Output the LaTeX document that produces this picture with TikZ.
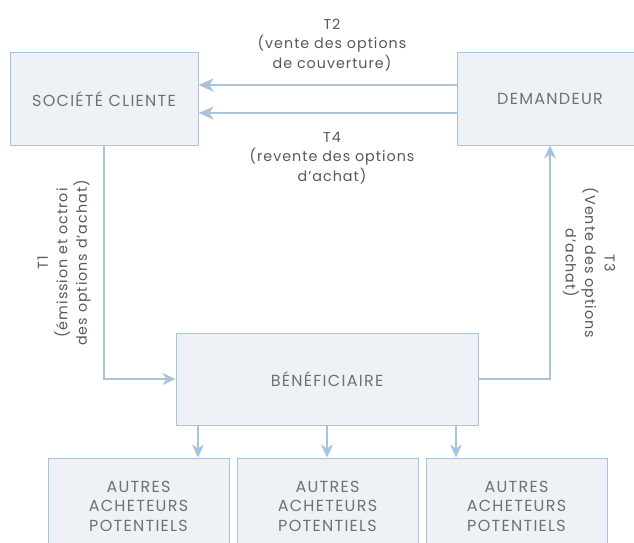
\documentclass[tikz,border=0pt]{standalone}
\usepackage{fontspec}
\setmainfont{Poppins}[LetterSpace=7]
\newfontfamily\capsfont{Poppins}[LetterSpace=8]
\usepackage{tikz}
\usetikzlibrary{arrows,arrows.meta,positioning,calc}

\definecolor{boxfill}{HTML}{EEF2F7}
\definecolor{boxline}{HTML}{A9C3DA}
\definecolor{txt}{HTML}{55585C}

\begin{document}
\begin{tikzpicture}[x=1pt,y=-1pt,font=\fontsize{14.3}{19.5}\selectfont,text=txt]
    % Define styles
    \tikzstyle{party} = [rectangle, draw=boxline, fill=boxfill, line width=1pt, text centered, align=center, inner sep=0pt, font=\capsfont\fontsize{16}{19.5}\selectfont, text=txt!85]
    \tikzstyle{buyer} = [party, minimum width=181pt, minimum height=96pt]
    \tikzstyle{arrow} = [draw=boxline, line width=1.3pt, -{Stealth[length=13pt,width=12pt,inset=4pt]}]
    \tikzstyle{bigarrow} = [draw=boxline, line width=2.6pt, -{Stealth[length=15pt,width=13pt,inset=4pt]}]
    \tikzstyle{label} = [align=center, inner sep=0pt]

    \useasboundingbox (0,0) rectangle (634,543);
    \clip (0,0) rectangle (634,543);

    % Nodes
    \node (soc) [party, minimum width=188pt, minimum height=92pt] at (104,99) {SOCIÉTÉ CLIENTE};
    \node (dem) [party, minimum width=186pt, minimum height=92pt] at (550,99) {DEMANDEUR};
    \node (ben) [party, minimum width=302pt, minimum height=92pt] at (327,379) {BÉNÉFICIAIRE};

    \node (buyA) [buyer] at (138.5,506) {AUTRES\\ACHETEURS\\POTENTIELS};
    \node (buyB) [buyer] at (327.5,506) {AUTRES\\ACHETEURS\\POTENTIELS};
    \node (buyC) [buyer] at (516.5,506) {AUTRES\\ACHETEURS\\POTENTIELS};

    % Labels
    \node (lblTtwo) [label] at (332,45) {T2\\(vente des options\\de couverture)};
    \node (lblTfour) [label] at (332,158) {T4\\(revente des options\\d’achat)};
    \node (lblTone) [label, rotate=90] at (64,263) {T1\\(émission et octroi\\des options d’achat)};
    \node (lblTthree) [label, rotate=-90] at (589,263) {T3\\(Vente des options\\d’achat)};

    % Arrows
    \draw [bigarrow] ([yshift=14pt]dem.west) -- ([yshift=14pt]soc.east);
    \draw [bigarrow] ([yshift=-14pt]dem.west) -- ([yshift=-14pt]soc.east);
    \draw [arrow] (soc.south) |- (ben.west);
    \draw [arrow] (ben.east) -| (dem.south);
    \draw [arrow] ([xshift=-129pt]ben.south) -- ([xshift=-129pt]ben.south |- buyA.north);
    \draw [arrow] (ben.south) -- (ben.south |- buyB.north);
    \draw [arrow] ([xshift=129pt]ben.south) -- ([xshift=129pt]ben.south |- buyC.north);
\end{tikzpicture}
\end{document}
